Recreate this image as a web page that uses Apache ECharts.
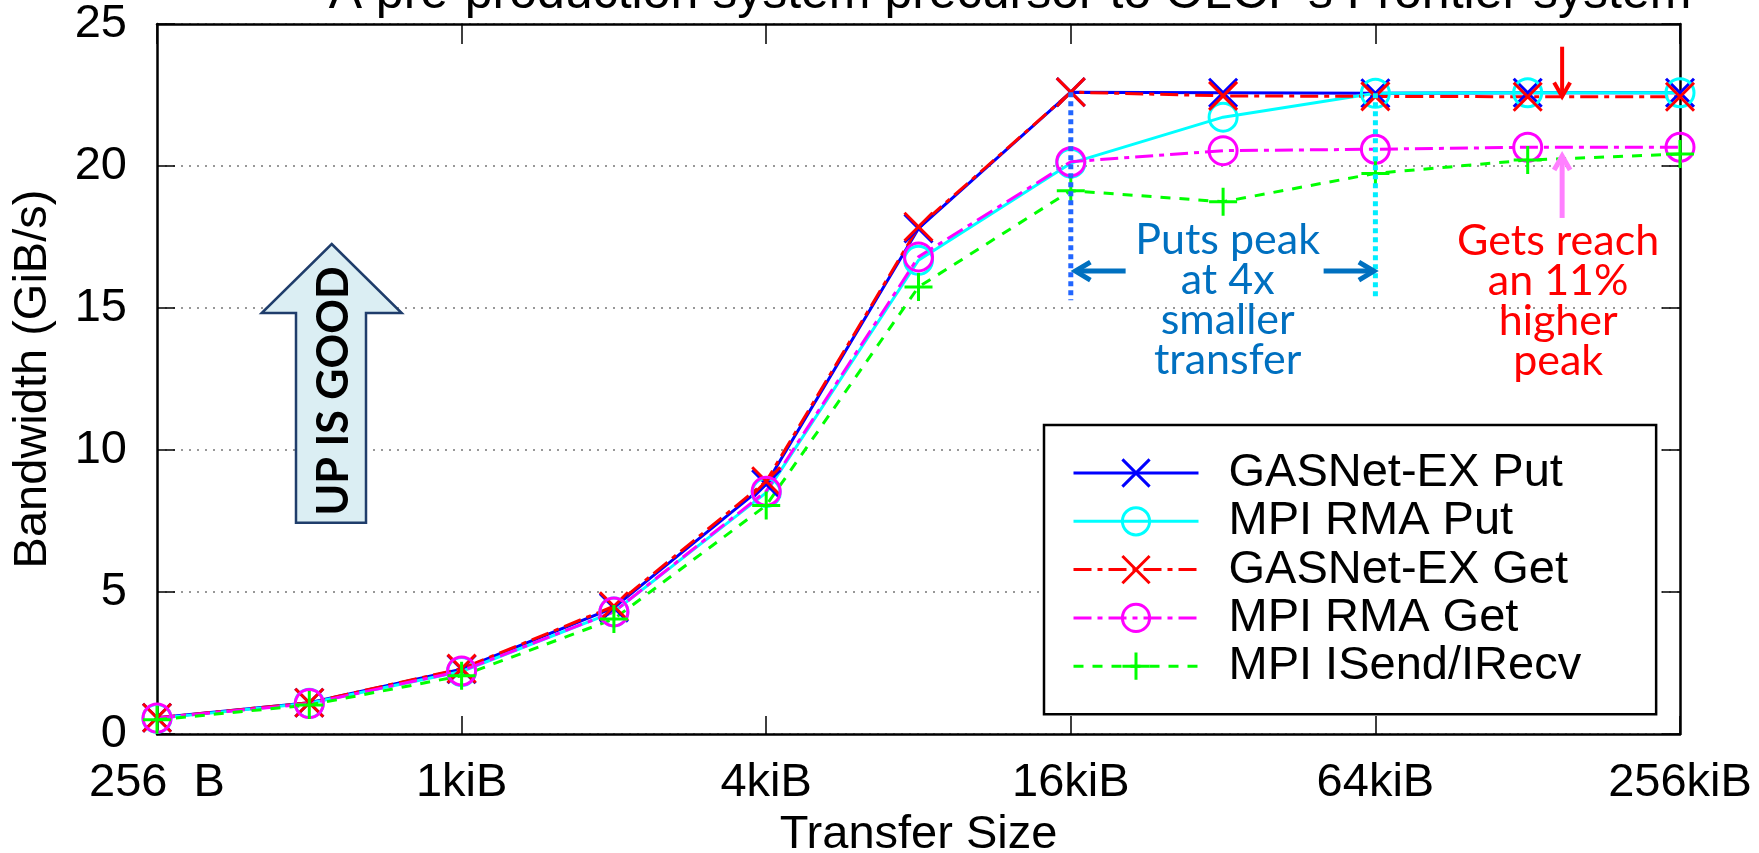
<!DOCTYPE html>
<html><head><meta charset="utf-8">
<script src="https://cdn.jsdelivr.net/npm/echarts@6/dist/echarts.min.js"></script>
<style>html,body{margin:0;padding:0;background:#fff}#c{width:1759px;height:853px}</style>
</head><body><div id="c"></div>
<script>
// ---- data ----
const sizes = [256, 512, 1024, 2048, 4096, 8192, 16384, 32768, 65536, 131072, 262144];
const tickLabels = ['256  B', '1kiB', '4kiB', '16kiB', '64kiB', '256kiB'];
const seriesNames = ['GASNet-EX Put', 'MPI RMA Put', 'GASNet-EX Get', 'MPI RMA Get', 'MPI ISend/IRecv'];
const gasnetPut = [0.57, 1.10, 2.28, 4.45, 8.80, 17.80, 22.60, 22.58, 22.56, 22.58, 22.58];
const mpiRmaPut = [0.55, 1.08, 2.20, 4.30, 8.50, 16.68, 20.10, 21.72, 22.56, 22.58, 22.58];
const gasnetGet = [0.57, 1.10, 2.30, 4.50, 8.90, 17.86, 22.60, 22.47, 22.45, 22.44, 22.44];
const mpiRmaGet = [0.56, 1.07, 2.22, 4.30, 8.55, 16.80, 20.15, 20.54, 20.59, 20.66, 20.66];
const mpiISend  = [0.50, 1.02, 2.05, 4.05, 8.05, 15.74, 19.13, 18.74, 19.74, 20.21, 20.42];
const titleText = "A pre-production system precursor to OLCF's Frontier system";

const FONT = '"Liberation Sans", Arial, Helvetica, sans-serif';
const FS = 47;
const X_PATH = 'path://M0,0L10,10M10,0L0,10';
const PLUS_PATH = 'path://M5,0L5,10M0,5L10,5';

function mk(name, vals, color, symbol, dash, size) {
  return {
    name: name, type: 'line',
    data: sizes.map((s, i) => [Math.log2(s), vals[i]]),
    symbol: symbol, symbolSize: size, showSymbol: true, showAllSymbol: true,
    lineStyle: {color: color, width: 3, type: dash},
    itemStyle: {color: 'rgba(0,0,0,0)', borderColor: color, borderWidth: 3},
    emphasis: {disabled: true},
    animation: false
  };
}
const dashDot = [18, 6, 5, 6];

const chart = echarts.init(document.getElementById('c'), null, {renderer: 'canvas'});
const axisLine = {onZero: false, lineStyle: {color: '#000', width: 2.5}};
const option = {
  animation: false,
  backgroundColor: '#fff',
  grid: {left: 157, right: 79, top: 24, bottom: 119, containLabel: false, outerBoundsMode: 'none'},
  xAxis: [{
    type: 'value', min: 8, max: 18, interval: 2, position: 'bottom',
    name: 'Transfer Size', nameLocation: 'middle', nameGap: 73,
    nameTextStyle: {fontSize: FS, fontFamily: FONT, color: '#000'},
    axisLine: axisLine,
    axisTick: {inside: true, length: 18, lineStyle: {color: '#000', width: 1.5}},
    axisLabel: {fontSize: FS, fontFamily: FONT, color: '#000', margin: 26,
      formatter: v => tickLabels[Math.round((v - 8) / 2)], showMinLabel: true, showMaxLabel: true, hideOverlap: false},
    splitLine: {show: false}
  }, {
    type: 'value', min: 8, max: 18, interval: 2, position: 'top',
    axisLine: axisLine,
    axisTick: {inside: true, length: 20, lineStyle: {color: '#000', width: 1.5}},
    axisLabel: {show: false}, splitLine: {show: false}
  }],
  yAxis: [{
    type: 'value', min: 0, max: 25, interval: 5, position: 'left',
    name: 'Bandwidth (GiB/s)', nameLocation: 'middle', nameGap: 100,
    nameTextStyle: {fontSize: FS, fontFamily: FONT, color: '#000'},
    axisLine: Object.assign({show: true}, axisLine),
    axisTick: {show: true, inside: true, length: 18, lineStyle: {color: '#000', width: 1.5}},
    axisLabel: {fontSize: FS, fontFamily: FONT, color: '#000', margin: 30},
    splitLine: {show: true, lineStyle: {color: '#777', width: 1.5, type: [2, 6]}}
  }, {
    type: 'value', min: 0, max: 25, interval: 5, position: 'right',
    axisLine: Object.assign({show: true}, axisLine),
    axisTick: {show: true, inside: true, length: 18, lineStyle: {color: '#000', width: 1.5}},
    axisLabel: {show: false}, splitLine: {show: false}
  }],
  legend: {
    orient: 'vertical', left: 1044, top: 425,
    data: seriesNames, selectedMode: false,
    itemWidth: 125, itemHeight: 34, itemGap: 0.3,
    padding: [24, 75, 24, 28],
    borderColor: '#000', borderWidth: 2.5, backgroundColor: '#fff',
    textStyle: {fontSize: FS, fontFamily: FONT, color: '#000', lineHeight: 48, padding: [0, 0, 0, 25]},
    itemStyle: {borderWidth: 3},
    lineStyle: {width: 3}
  },
  series: [
    mk(seriesNames[0], gasnetPut, '#0000ff', X_PATH, 'solid', 28),
    mk(seriesNames[1], mpiRmaPut, '#00ffff', 'circle', 'solid', 28),
    mk(seriesNames[2], gasnetGet, '#ff0000', X_PATH, dashDot, 28),
    mk(seriesNames[3], mpiRmaGet, '#ff00ff', 'circle', dashDot, 28),
    mk(seriesNames[4], mpiISend, '#00ff00', PLUS_PATH, [10, 9], 28)
  ]
};
chart.setOption(option);

// ---- annotations (placed in data space) ----
const P = (x, y) => chart.convertToPixel({xAxisIndex: 0, yAxisIndex: 0}, [x, y]);
function arrow(a, b, color, w, headLen, headHalf) {
  const p0 = P(a[0], a[1]), p1 = P(b[0], b[1]);
  const dx = p1[0] - p0[0], dy = p1[1] - p0[1];
  const L = Math.hypot(dx, dy), ux = dx / L, uy = dy / L;
  const nx = -uy, ny = ux;
  const bx = p1[0] - ux * headLen, by = p1[1] - uy * headLen;
  return [
    {type: 'polyline', silent: true, z: 50, shape: {points: [p0, [p1[0] - ux * 2, p1[1] - uy * 2]]},
      style: {stroke: color, lineWidth: w, fill: null}},
    {type: 'polyline', silent: true, z: 50, shape: {points: [[bx + nx * headHalf, by + ny * headHalf], p1, [bx - nx * headHalf, by - ny * headHalf]]},
      style: {stroke: color, lineWidth: w, fill: null, lineJoin: 'miter'}}
  ];
}
function vline(x, y0, y1, color) {
  const a = P(x, y0), b = P(x, y1);
  return {type: 'line', silent: true, z: 40, shape: {x1: a[0], y1: a[1], x2: b[0], y2: b[1]},
    style: {stroke: color, lineWidth: 5, lineDash: [5, 4]}};
}
function textBlock(x, yBaseline, txt, color, fs) {
  const p = P(x, yBaseline);
  return {type: 'text', silent: true, z: 60, x: p[0], y: p[1] - 37,
    style: {text: txt, align: 'center', verticalAlign: 'top', fill: color,
      font: fs + 'px Lato, "Open Sans", sans-serif', lineHeight: 40}};
}
const g = [];
g.push(vline(14, 22.6, 15.27, '#2266ff'));
g.push(vline(16, 22.56, 15.27, '#00eeff'));
g.push(...arrow([14.36, 16.3], [14.03, 16.3], '#0070c0', 5, 15, 9));
g.push(...arrow([15.66, 16.3], [15.99, 16.3], '#0070c0', 5, 15, 9));
g.push(textBlock(15.03, 16.79, 'Puts peak\nat 4x\nsmaller\ntransfer', '#0070c0', 43));
g.push(textBlock(17.2, 16.76, 'Gets reach\nan 11%\nhigher\npeak', '#ff0000', 43));
g.push(...arrow([17.226, 18.17], [17.226, 20.35], '#ff80ff', 5, 14, 8));
g.push(...arrow([17.226, 24.2], [17.226, 22.45], '#ff0000', 4, 14, 8));
// "UP IS GOOD" block arrow
g.push({type: 'polygon', silent: true, z: 30,
  shape: {points: [[331.7, 244], [401.7, 313], [366, 313], [366, 522.7], [296, 522.7], [296, 313], [261.7, 313]]},
  style: {fill: '#dbeef3', stroke: '#1f3d6b', lineWidth: 2.5}});
g.push({type: 'text', silent: true, z: 31, x: 334, y: 391, rotation: Math.PI / 2,
  style: {text: 'UP IS GOOD', align: 'center', verticalAlign: 'middle', fill: '#000',
    font: 'bold 43px Lato, "Open Sans", sans-serif'}});
// title (cut off at the top as in the original)
g.push({type: 'text', silent: true, z: 60, x: 1010, y: -31,
  style: {text: titleText, align: 'center', verticalAlign: 'top', fill: '#000', font: '50px ' + FONT}});
chart.setOption({graphic: g});
</script></body></html>
